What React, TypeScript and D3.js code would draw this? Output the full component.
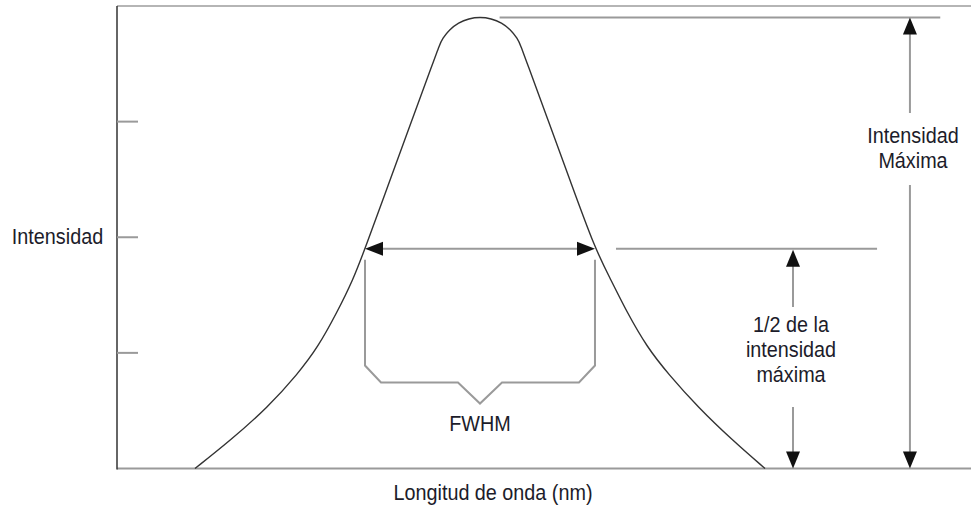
import React from "react";
import * as d3 from "d3";

// Spectral curve (arbitrary wavelength units vs. relative intensity)
const wavelength = [
  9.13, 13.23, 17.68, 21.19, 23.54, 25.76, 27.63, 29.04, 31.97, 34.54, 37.12,
  37.75, 38.11, 38.92, 39.98, 41.19, 42.51, 43.82, 45.04, 46.09, 46.9, 47.26,
  47.89, 50.47, 53.04, 55.97, 57.85, 59.72, 62.06, 64.52, 68.03, 72.13, 75.88,
];
const intensity = [
  0, 0.24, 0.53, 0.82, 1.05, 1.35, 1.63, 1.9, 2.495, 3.013, 3.533, 3.66, 3.718,
  3.795, 3.855, 3.892, 3.905, 3.892, 3.855, 3.795, 3.718, 3.66, 3.533, 3.013,
  2.495, 1.9, 1.63, 1.35, 1.05, 0.82, 0.53, 0.24, 0,
];
const yTicks = [1, 2, 3];
const axisTop = 4;
const peakIntensity = 3.9;
const halfIntensity = 1.9;
const fwhmLeft = 29.04;
const fwhmRight = 55.97;
const peakLineFrom = 44.8;
const peakLineTo = 96.4;
const halfLineFrom = 58.43;
const halfLineTo = 89.0;
const maxArrowX = 92.85;
const halfArrowX = 79.16;
const yLabel = "Intensidad";
const xLabel = "Longitud de onda (nm)";
const fwhmLabel = "FWHM";
const maxLabel = ["Intensidad", "Máxima"];
const halfLabel = ["1/2 de la", "intensidad", "máxima"];

const W = 971;
const H = 506;
const FONT = "'Liberation Sans', Arial, sans-serif";
const TEXT = "#1c1c2a";
const GRAY = "#9a9a9a";

export default function App() {
  const x = d3.scaleLinear().domain([0, 100]).range([117, 971]);
  const y = d3.scaleLinear().domain([0, axisTop]).range([468.5, 6]);

  const pts: [number, number][] = wavelength.map((w, i) => [w, intensity[i]]);
  const line = d3
    .line<[number, number]>()
    .x((d) => x(d[0]))
    .y((d) => y(d[1]))
    .curve(d3.curveBasis);

  const base = y(0);
  const yPeak = y(peakIntensity);
  const yHalf = y(halfIntensity);
  const xl = x(fwhmLeft);
  const xr = x(fwhmRight);
  const xm = (xl + xr) / 2;

  const headV = (cx: number, tip: number, dir: number) =>
    `M${cx},${tip} L${cx - 7},${tip + dir * 17} L${cx + 7},${tip + dir * 17} Z`;
  const headH = (tip: number, cy: number, dir: number) =>
    `M${tip},${cy} L${tip + dir * 18},${cy - 7} L${tip + dir * 18},${cy + 7} Z`;

  const braceTop = yHalf + 11;
  const braceBend = base - 103;
  const braceFlat = base - 86;
  const braceTip = base - 65;
  const brace = [
    [xl, braceTop],
    [xl, braceBend],
    [xl + 16, braceFlat],
    [xm - 22, braceFlat],
    [xm, braceTip],
    [xm + 22, braceFlat],
    [xr - 16, braceFlat],
    [xr, braceBend],
    [xr, braceTop],
  ] as [number, number][];

  const txt = (s: string, cx: number, by: number, key?: string | number) => (
    <text
      key={key}
      x={0}
      y={0}
      transform={`translate(${cx},${by}) scale(0.9,1)`}
      textAnchor="middle"
      fontFamily={FONT}
      fontSize={22}
      fill={TEXT}
    >
      {s}
    </text>
  );

  const xMax = x(maxArrowX);
  const xHalfA = x(halfArrowX);

  return (
    <svg
      width={W}
      height={H}
      viewBox={`0 0 ${W} ${H}`}
      style={{ position: "absolute", left: 0, top: 0, background: "#fff" }}
    >
      {/* frame */}
      <line x1={117} x2={971} y1={y(axisTop)} y2={y(axisTop)} stroke="#b5b5b5" strokeWidth={2} />
      <line x1={117} x2={971} y1={base} y2={base} stroke={GRAY} strokeWidth={2} />
      <line x1={117} x2={117} y1={y(axisTop)} y2={base + 1} stroke="#333" strokeWidth={1.5} />
      {yTicks.map((t) => (
        <line key={t} x1={117} x2={138} y1={y(t)} y2={y(t)} stroke={GRAY} strokeWidth={2} />
      ))}

      {/* curve */}
      <path d={line(pts) || ""} fill="none" stroke="#333" strokeWidth={1.4} />

      {/* peak reference */}
      <line x1={x(peakLineFrom)} x2={x(peakLineTo)} y1={yPeak} y2={yPeak} stroke={GRAY} strokeWidth={2} />
      <line x1={xMax} x2={xMax} y1={yPeak + 10} y2={113} stroke={GRAY} strokeWidth={2} />
      <line x1={xMax} x2={xMax} y1={185} y2={base - 10} stroke={GRAY} strokeWidth={2} />
      <path d={headV(xMax, yPeak, 1)} fill="#111" />
      <path d={headV(xMax, base, -1)} fill="#111" />

      {/* half maximum */}
      <line x1={x(halfLineFrom)} x2={x(halfLineTo)} y1={yHalf} y2={yHalf} stroke={GRAY} strokeWidth={2} />
      <line x1={xHalfA} x2={xHalfA} y1={yHalf + 10} y2={307} stroke={GRAY} strokeWidth={2} />
      <line x1={xHalfA} x2={xHalfA} y1={407} y2={base - 10} stroke={GRAY} strokeWidth={2} />
      <path d={headV(xHalfA, yHalf + 1, 1)} fill="#111" />
      <path d={headV(xHalfA, base, -1)} fill="#111" />

      {/* FWHM arrow */}
      <line x1={xl + 10} x2={xr - 10} y1={yHalf} y2={yHalf} stroke={GRAY} strokeWidth={2} />
      <path d={headH(xl, yHalf, 1)} fill="#111" />
      <path d={headH(xr, yHalf, -1)} fill="#111" />

      {/* brace */}
      <polyline
        points={brace.map((p) => p.join(",")).join(" ")}
        fill="none"
        stroke={GRAY}
        strokeWidth={2}
      />

      {/* labels */}
      {txt(yLabel, 57.5, 244)}
      {txt(xLabel, 493, 500)}
      {txt(fwhmLabel, xm, 431)}
      {maxLabel.map((s, i) => txt(s, 913, 143 + i * 25, "m" + i))}
      {halfLabel.map((s, i) => txt(s, 791, 332 + i * 25, "h" + i))}
    </svg>
  );
}
